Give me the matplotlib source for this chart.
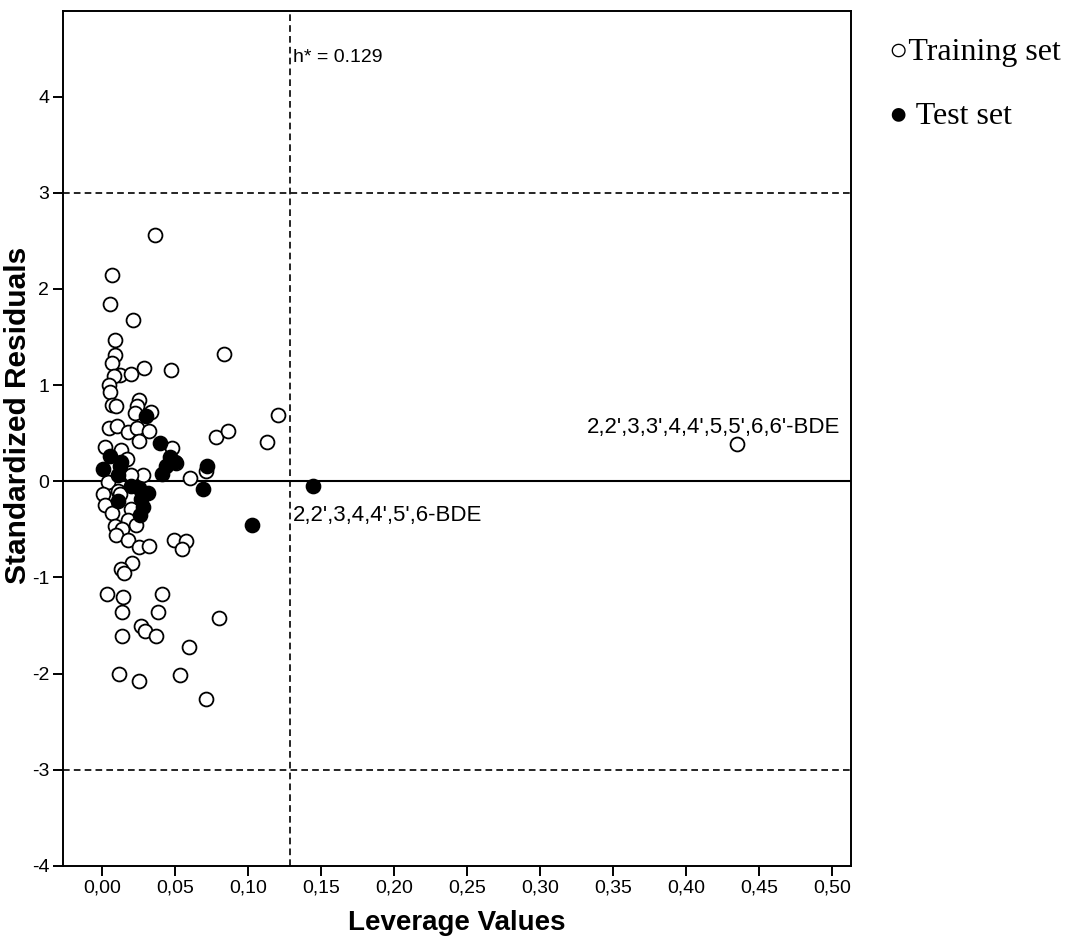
import numpy as np
import matplotlib.pyplot as plt
from matplotlib.ticker import FixedLocator, FuncFormatter

# leverage / standardized residuals, training set
train_h = [0.0363, 0.0066, 0.0055, 0.0215, 0.0089, 0.0089, 0.0066, 0.0838, 0.0290, 0.0470,
           0.0123, 0.0196, 0.0084, 0.0050, 0.0055, 0.0253, 0.0237, 0.0066, 0.0094, 0.0226,
           0.0333, 0.1203, 0.0050, 0.0105, 0.0180, 0.0242, 0.0324, 0.0253, 0.0780, 0.0860,
           0.1128, 0.0020, 0.0128, 0.0477, 0.0169, 0.0510, 0.0710, 0.0280, 0.0196, 0.0600,
           0.0043, 0.0010, 0.0110, 0.0123, 0.0020, 0.0070, 0.0196, 0.0180, 0.0233, 0.0089,
           0.0135, 0.0094, 0.0176, 0.0253, 0.0324, 0.0495, 0.0575, 0.0550, 0.0208, 0.0130,
           0.0150, 0.0032, 0.0146, 0.0413, 0.0135, 0.0380, 0.0800, 0.0265, 0.0295, 0.0139,
           0.0370, 0.0596, 0.0119, 0.0253, 0.0534, 0.0712, 0.4350]
train_r = [2.56, 2.14, 1.84, 1.675, 1.47, 1.31, 1.23, 1.32, 1.18, 1.16,
           1.11, 1.12, 1.09, 1.00, 0.93, 0.84, 0.78, 0.79, 0.78, 0.71,
           0.72, 0.69, 0.55, 0.57, 0.51, 0.55, 0.52, 0.42, 0.46, 0.52,
           0.41, 0.36, 0.33, 0.35, 0.23, 0.19, 0.11, 0.07, 0.07, 0.03,
           -0.01, -0.13, -0.10, -0.13, -0.25, -0.33, -0.29, -0.40, -0.45, -0.46,
           -0.50, -0.56, -0.61, -0.68, -0.67, -0.61, -0.62, -0.70, -0.855, -0.91,
           -0.95, -1.17, -1.20, -1.17, -1.36, -1.36, -1.42, -1.51, -1.56, -1.61,
           -1.61, -1.72, -2.00, -2.08, -2.01, -2.26, 0.385]

# test set
test_h = [0.0301, 0.0397, 0.0055, 0.0466, 0.0500, 0.0440, 0.0717, 0.0010, 0.0123, 0.0110,
          0.0410, 0.0694, 0.0200, 0.0250, 0.0317, 0.0270, 0.0110, 0.0280, 0.0260, 0.1030,
          0.1445, 0.0130]
test_r = [0.68, 0.40, 0.26, 0.25, 0.20, 0.16, 0.16, 0.125, 0.16, 0.07,
          0.08, -0.08, -0.05, -0.066, -0.125, -0.18, -0.205, -0.27, -0.35, -0.457,
          -0.05, 0.20]

h_star = 0.129
xticks = np.arange(0, 0.501, 0.05)
yticks = [-4, -3, -2, -1, 0, 1, 2, 3, 4]

fig = plt.figure(figsize=(10.65, 9.38), dpi=100)
ax = fig.add_axes([0.0592, 0.0768, 0.7399, 0.9115])

ax.scatter(train_h, train_r, s=100, facecolor='white', edgecolor='black', linewidth=1.3, zorder=3)
ax.scatter(test_h, test_r, s=100, facecolor='black', edgecolor='black', linewidth=1.3, zorder=4)

ax.axhline(0, color='black', lw=1.5, zorder=2)
for yy in (3, -3):
    ax.axhline(yy, color='black', lw=1.2, ls=(0, (4, 2.5)), zorder=2)
ax.axvline(h_star, color='black', lw=1.2, ls=(0, (4, 2.5)), zorder=2)

ax.text(0.1308, 4.36, 'h* = %.3f' % h_star, fontsize=14, family='Liberation Sans',
        va='baseline', ha='left')
ax.text(0.5055, 0.5, "2,2',3,3',4,4',5,5',6,6'-BDE", fontsize=16, family='Liberation Sans',
        ha='right', va='baseline')
ax.text(0.1308, -0.415, "2,2',3,4,4',5',6-BDE", fontsize=16, family='Liberation Sans',
        ha='left', va='baseline')

ax.set_xlim(-0.0267, 0.513)
ax.set_ylim(-4, 4.89)
ax.xaxis.set_major_locator(FixedLocator(xticks))
ax.yaxis.set_major_locator(FixedLocator(yticks))
ax.xaxis.set_major_formatter(FuncFormatter(lambda v, p: ('%.2f' % v).replace('.', ',')))
ax.yaxis.set_major_formatter(FuncFormatter(lambda v, p: '%d' % v))
ax.tick_params(direction='out', length=7, width=1.4, labelsize=14, pad=3)
for lab in ax.get_xticklabels() + ax.get_yticklabels():
    lab.set_family('Liberation Sans')
for sp in ax.spines.values():
    sp.set_linewidth(1.4)

ax.set_xlabel('Leverage Values', fontsize=20, fontweight='bold', family='Liberation Sans')
ax.set_ylabel('Standardized Residuals', fontsize=21.5, fontweight='bold', family='Liberation Sans')
ax.xaxis.set_label_coords(0.5, -0.052)
ax.yaxis.set_label_coords(-0.039, 0.527)

# legend written as text
fig.text(0.835, 0.944, '\u25cbTraining set', fontsize=23, family=['Liberation Serif', 'DejaVu Sans'],
         va='center', ha='left')
fig.text(0.835, 0.876, '\u25cf Test set', fontsize=23, family=['Liberation Serif', 'DejaVu Sans'],
         va='center', ha='left')

fig.savefig('out.png', dpi=100)
